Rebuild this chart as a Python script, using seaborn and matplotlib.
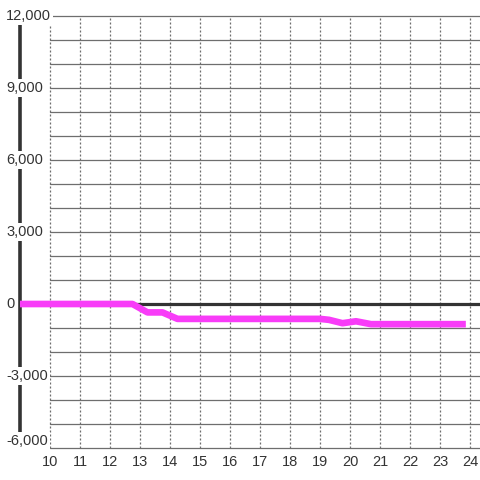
import numpy as np
import pandas as pd
import matplotlib
matplotlib.use("Agg")
import matplotlib.pyplot as plt
import matplotlib.transforms as mtransforms
import seaborn as sns

# data (hour of day vs value)
hours = [9.0, 12.75, 13.25, 13.75, 14.25, 19.0, 19.3, 19.75, 20.2, 20.7, 23.75]
values = [0, 0, -350, -350, -620, -620, -660, -800, -720, -840, -840]

y_label_ticks = [12000, 9000, 6000, 3000, 0, -3000, -6000]
y_grid = list(range(-6000, 12001, 1000))
x_ticks = list(range(10, 25))

sns.set_style("white")
plt.rcParams['font.family'] = ['Liberation Sans', 'DejaVu Sans']

df = pd.DataFrame({"hour": hours, "value": values})

fig = plt.figure(figsize=(4.8, 4.8), dpi=100)
W = 480
ax = fig.add_axes([20 / W, 32 / W, 460 / W, 432 / W])

ax.set_xlim(9, 9 + 460 / 30)
ax.set_ylim(-6000, 12000)

grid_col = '#6e6e6e'
dark = '#333333'

# horizontal grid (solid) starting at the first hour tick
for yv in y_grid:
    if yv == 0:
        continue
    ax.plot([10, ax.get_xlim()[1]], [yv, yv], color=grid_col, lw=0.9, zorder=1, clip_on=False)

# vertical dotted grid
for xv in x_ticks:
    ax.axvline(xv, color=grid_col, lw=0.9, ls=(0, (1.6, 1.6)), zorder=1)

# zero line
ax.axhline(0, color=dark, lw=2.3, zorder=2)

sns.lineplot(data=df, x="hour", y="value", ax=ax, color='#f83cf8', lw=4.8,
             solid_capstyle='projecting', zorder=4)

for s in ['top', 'right', 'bottom']:
    ax.spines[s].set_visible(False)
ax.spines['left'].set_color(dark)
ax.spines['left'].set_linewidth(2.6)
ax.spines['left'].set_zorder(2.5)

ax.set_xlabel('')
ax.set_ylabel('')
ax.set_xticks(x_ticks)
ax.set_xticklabels([str(x) for x in x_ticks])
ax.tick_params(axis='x', length=0, pad=5, labelsize=10.5, labelcolor=dark)
ax.set_yticks([])

# y labels with white boxes sitting over the spine
trans = ax.get_yaxis_transform()
for yv in y_label_ticks:
    off = 0
    if yv == -6000:
        off = 7
    t = mtransforms.offset_copy(trans, fig=fig, x=-14, y=off, units='dots')
    ax.text(0, yv, f"{yv:,}", transform=t, ha='left', va='center', fontsize=10.5,
            color=dark, zorder=5, clip_on=False,
            bbox=dict(facecolor='white', edgecolor='none', pad=1.5))

fig.savefig("out.png", dpi=100)
